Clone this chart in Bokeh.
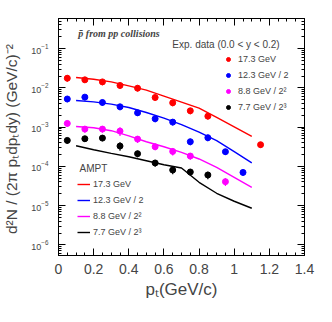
from bokeh.plotting import figure
from bokeh.models import (Range1d, LinearAxis, LogAxis, FixedTicker, Label, Legend, LegendItem)
from bokeh.embed import file_html
from bokeh.resources import INLINE

# ---- data ----
x_red = [0.05, 0.15, 0.25, 0.35, 0.45, 0.55, 0.65, 0.75, 0.85, 1.15]
y_red = [0.0176, 0.0160, 0.0142, 0.0115, 0.0098, 0.00568, 0.00416, 0.0026, 0.0019, 0.000356]
e_red = [0.0032, 0.0028, 0.0026, 0.0020, 0.0017, 0.0010, 0.00075, 0.00047, 0.00034, 0.00006]

x_blue = [0.05, 0.15, 0.25, 0.35, 0.45, 0.55, 0.65, 0.75, 0.85, 0.95, 1.05]
y_blue = [0.0052, 0.0058, 0.00424, 0.00329, 0.00231, 0.00163, 0.00134, 0.000424, 0.000536, 0.000236, 7.0e-5]
e_blue = [0.0009, 0.0010, 0.00075, 0.0006, 0.0004, 0.0003, 0.00024, 0.00008, 0.0001, 0.00004, 0.000012]

x_mag = [0.05, 0.15, 0.25, 0.35, 0.45, 0.55, 0.65, 0.75, 0.95]
y_mag = [0.00124, 0.00089, 0.00089, 0.00079, 0.000495, 0.000316, 0.00024, 0.000183, 4.07e-5]
e_mag = [0.00022, 0.00017, 0.00017, 0.0002, 0.0001, 0.00006, 0.00005, 0.000035, 0.000009]

x_blk = [0.05, 0.15, 0.25, 0.35, 0.45, 0.55, 0.65, 0.75, 0.85]
y_blk = [0.000458, 0.000505, 0.000525, 0.000329, 0.00021, 0.000122, 8.07e-5, 7.18e-5, 6.02e-5]
e_blk = [0.00008, 0.00009, 0.00009, 0.00008, 0.00004, 0.000024, 0.000018, 0.000014, 0.000013]

x_ampt = [0.1, 0.2, 0.3, 0.4, 0.5, 0.6, 0.7, 0.8, 0.9, 1.0, 1.1]
ampt_red = [0.0183, 0.0166, 0.0142, 0.0112, 0.00872, 0.00614, 0.00432, 0.00304, 0.00176, 0.00102, 0.00058]
ampt_blue = [0.00476, 0.0044, 0.00384, 0.00316, 0.00236, 0.00169, 0.00115, 0.000747, 0.00045, 0.000236, 0.000122]
ampt_mag = [0.00104, 0.00096, 0.00081, 0.0006, 0.000424, 0.000316, 0.000227, 0.000154, 9.4e-5, 5.25e-5, 2.9e-5]
ampt_blk = [0.000335, 0.000265, 0.000214, 0.000176, 0.000139, 0.00011, 9.1e-5, 3.92e-5, 2.06e-5, 1.29e-5, 8.55e-6]

labels = ["17.3 GeV", "12.3 GeV / 2", "8.8 GeV / 2\u00b2", "7.7 GeV / 2\u00b3"]
colors = ["#ff0000", "#0000ff", "#ff00ff", "#000000"]
x_ticks = [0, 0.2, 0.4, 0.6, 0.8, 1.0, 1.2, 1.4]
x_tick_labels = ["0", "0.2", "0.4", "0.6", "0.8", "1", "1.2", "1.4"]
y_decades = [-6, -5, -4, -3, -2, -1]

FONT = "Liberation Sans"

p = figure(width=332, height=322, y_axis_type="log",
           x_range=Range1d(0, 1.4), y_range=Range1d(5.35e-7, 0.585),
           output_backend="svg", toolbar_location=None,
           min_border_left=56, min_border_right=28, min_border_top=18, min_border_bottom=67)
p.grid.visible = False
p.outline_line_color = "black"
p.outline_line_width = 1
p.background_fill_color = "white"

major_y = [10.0 ** d for d in y_decades]
minor_y = [m * 10.0 ** d for d in [-7] + y_decades for m in range(2, 10)]
minor_x = [i * 0.05 for i in range(0, 29)]

xt = FixedTicker(ticks=x_ticks, minor_ticks=minor_x)
yt = FixedTicker(ticks=major_y, minor_ticks=minor_y)

def style(ax, show, ticks=None):
    ax.major_tick_in = 7
    ax.major_tick_out = 0
    ax.minor_tick_in = 3
    ax.minor_tick_out = 0
    ax.axis_line_color = "black"
    ax.major_tick_line_color = "black"
    ax.minor_tick_line_color = "black"
    if not show:
        ax.major_label_standoff = 0
        ax.major_label_text_font_size = "0px"
        ax.major_label_overrides = {t: "" for t in ticks}

xa = p.xaxis[0]
xa.ticker = xt
xa.major_label_overrides = {t: l for t, l in zip(x_ticks, x_tick_labels)}
xa.major_label_text_font = FONT
xa.major_label_text_font_size = "14px"
xa.major_label_standoff = 8
xa.axis_label = "p\u209c(GeV/c)"
xa.axis_label_text_font = FONT
xa.axis_label_text_font_size = "17px"
xa.axis_label_text_font_style = "normal"
xa.axis_label_standoff = 3
style(xa, True)

ya = p.yaxis[0]
ya.ticker = yt
ya.major_label_text_font = FONT
ya.major_label_text_font_size = "9px"
ya.major_label_standoff = 10
ya.axis_label = "d\u00b2N /  (2\u03c0 p\u209cdp\u209cdy) (GeV/c)\u207b\u00b2"
ya.axis_label_text_font = FONT
ya.axis_label_text_font_size = "15.5px"
ya.axis_label_text_font_style = "normal"
ya.axis_label_standoff = 8
style(ya, True)

top = LinearAxis(ticker=FixedTicker(ticks=x_ticks, minor_ticks=minor_x))
style(top, False, x_ticks)
p.add_layout(top, "above")
right = LogAxis(ticker=FixedTicker(ticks=major_y, minor_ticks=minor_y))
style(right, False, major_y)
p.add_layout(right, "right")

# ---- data points ----
exp_sets = [(x_red, y_red, e_red), (x_blue, y_blue, e_blue), (x_mag, y_mag, e_mag), (x_blk, y_blk, e_blk)]
ampt_sets = [ampt_red, ampt_blue, ampt_mag, ampt_blk]

line_r = []
for ys, c in zip(ampt_sets, colors):
    line_r.append(p.line(x_ampt, ys, line_color=c, line_width=1.4))

pt_r = []
for (xs, ys, es), c in zip(exp_sets, colors):
    lo = [y - e for y, e in zip(ys, es)]
    hi = [y + e for y, e in zip(ys, es)]
    p.segment(x0=xs, y0=lo, x1=xs, y1=hi, line_color=c, line_width=1.2)
    pt_r.append(p.scatter(xs, ys, size=6, fill_color=c, line_color=c, marker="circle"))

leg_exp = Legend(items=[LegendItem(label=l, renderers=[r]) for l, r in zip(labels, pt_r)],
                 location=(165, 142), padding=0, margin=0, spacing=4,
                 glyph_width=10, glyph_height=12, label_height=12, label_standoff=5,
                 label_text_font=FONT, label_text_font_size="9px",
                 background_fill_alpha=0, border_line_alpha=0)
leg_ampt = Legend(items=[LegendItem(label=l, renderers=[r]) for l, r in zip(labels, line_r)],
                  location=(19, 17), padding=0, margin=0, spacing=4,
                  glyph_width=13, glyph_height=12, label_height=12, label_standoff=3,
                  label_text_font=FONT, label_text_font_size="9px",
                  background_fill_alpha=0, border_line_alpha=0)
p.add_layout(leg_exp)
p.add_layout(leg_ampt)

p.add_layout(Label(x=0.113, y=0.246, text="p\u0304 from pp collisions",
                   text_font="Liberation Serif", text_font_style="bold italic",
                   text_font_size="10px", text_baseline="middle"))
p.add_layout(Label(x=0.648, y=0.124, text="Exp. data (0.0 < y < 0.2)",
                   text_font=FONT, text_font_size="10px", text_baseline="middle"))
p.add_layout(Label(x=0.120, y=8.57e-5, text="AMPT",
                   text_font=FONT, text_font_size="10px", text_baseline="middle"))

open("out.html", "w").write(file_html(p, INLINE))
